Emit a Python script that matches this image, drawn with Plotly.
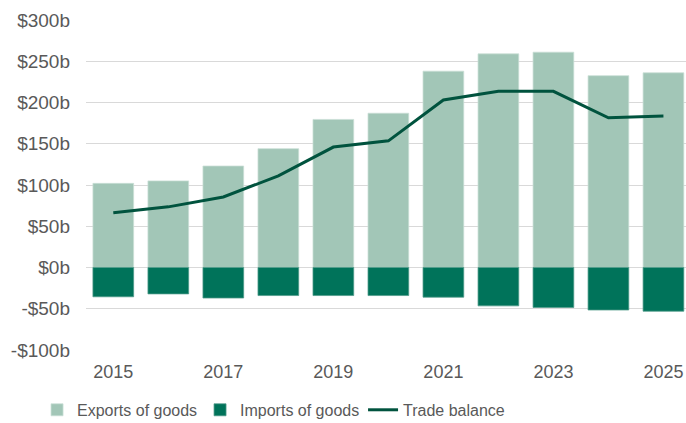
import plotly.graph_objects as go

years = [2015, 2016, 2017, 2018, 2019, 2020, 2021, 2022, 2023, 2024, 2025]
exports = [102, 105, 123, 144, 179.5, 187, 238, 259, 261, 232.5, 236]
imports = [-35.5, -32, -37, -34, -34, -34, -36, -46.5, -48.5, -51.5, -53]
balance = [66.5, 73.5, 85.5, 111, 146, 153.5, 203, 213.5, 213.5, 181.5, 183.5]

tick_vals = [-100, -50, 0, 50, 100, 150, 200, 250, 300]
tick_text = ["-$100b", "-$50b", "$0b", "$50b", "$100b", "$150b", "$200b", "$250b", "$300b"]
x_ticks = [2015, 2017, 2019, 2021, 2023, 2025]

font_main = "Liberation Sans, Arial, sans-serif"
grey = "#595959"

fig = go.Figure()
fig.add_trace(go.Bar(x=years, y=exports, name="Exports of goods",
                     marker=dict(color="#A2C6B7", line=dict(color="#C9DFD5", width=0.75))))
fig.add_trace(go.Bar(x=years, y=imports, name="Imports of goods",
                     marker=dict(color="#00735A", line=dict(color="#4D9A88", width=0.75))))
fig.add_trace(go.Scatter(x=years, y=balance, name="Trade balance", mode="lines",
                         line=dict(color="#00533E", width=3)))

fig.update_layout(
    width=686, height=423,
    margin=dict(l=86, r=0, t=20, b=73),
    barmode="relative",
    bargap=0.26,
    plot_bgcolor="white", paper_bgcolor="white",
    font=dict(family=font_main, color=grey, size=18),
    showlegend=True,
    hovermode=False,
    legend=dict(orientation="h", xref="container", yref="container",
                x=0.054, xanchor="left", y=0.031, yanchor="middle",
                font=dict(family=font_main, size=16, color=grey),
                entrywidth=118, entrywidthmode="pixels",
                traceorder="normal"),
)
fig.update_xaxes(tickvals=x_ticks, ticktext=[str(v) for v in x_ticks],
                 range=[2014.504, 2025.41], showgrid=False, zeroline=False,
                 showline=False, ticks="", ticklabelstandoff=9,
                 tickfont=dict(size=18, color=grey))
fig.update_yaxes(range=[-100, 300], tickvals=tick_vals, ticktext=tick_text,
                 showgrid=True, gridcolor="#D9D9D9", gridwidth=1,
                 zeroline=True, zerolinecolor="#D9D9D9", zerolinewidth=1,
                 showline=False, ticks="", ticklabelstandoff=15,
                 tickfont=dict(size=19, color=grey))

fig.write_html("out.html", config={"displayModeBar": False})

with open("out.html", "r", encoding="utf-8") as f:
    html = f.read()
html = html.replace("<body>", '<body style="margin:0;padding:0;">', 1)
with open("out.html", "w", encoding="utf-8") as f:
    f.write(html)
